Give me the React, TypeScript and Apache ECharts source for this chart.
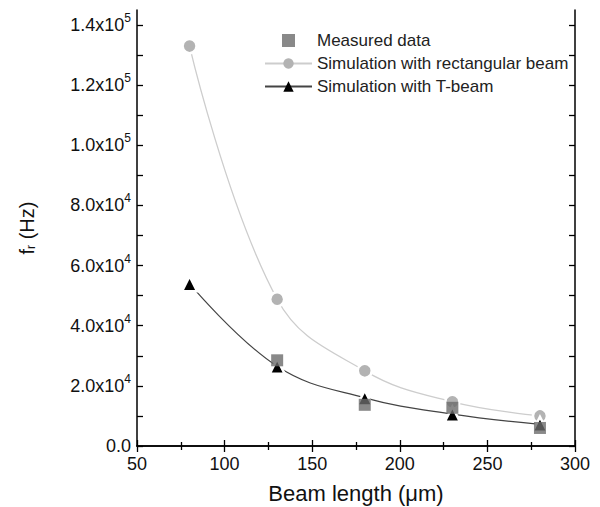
import React, { useEffect, useRef } from 'react';
import * as echarts from 'echarts';

const beamLengths = [80, 130, 180, 230, 280];
const measured: (number | null)[] = [null, 28500, 13700, 12700, 6000];
const rectBeam = [133000, 48800, 25000, 14700, 10000];
const tBeam = [54000, 26500, 16000, 10600, 7200];
const yLabelValues = [0, 20000, 40000, 60000, 80000, 100000, 120000, 140000];
const yTickValues = [0, 10000, 20000, 30000, 40000, 50000, 60000, 70000, 80000, 90000, 100000, 110000, 120000, 130000, 140000];

const FONT = 'Liberation Sans, Arial, sans-serif';

function fmtY(v: number): string {
  if (v === 0) return '{m|0.0}';
  const e = Math.floor(Math.log10(v) + 1e-9);
  const mant = (v / Math.pow(10, e)).toFixed(1);
  return `{m|${mant}x10}{s|${e}}`;
}

export default function App() {
  const ref = useRef<HTMLDivElement>(null);
  useEffect(() => {
    if (!ref.current) return;
    const chart = echarts.init(ref.current, undefined, { renderer: 'svg' });
    const axisLine = { show: true, lineStyle: { color: '#000', width: 1.5 } };
    const tickStyle = { color: '#000', width: 1.3 };
    const xCommon = {
      type: 'value' as const,
      min: 50,
      max: 300,
      interval: 50,
      axisLine,
      splitLine: { show: false },
      axisTick: { show: true, inside: true, length: 6, lineStyle: tickStyle },
      minorTick: { show: true, splitNumber: 2, length: 4, lineStyle: tickStyle },
    };
    const yCommon = {
      type: 'value' as const,
      min: 0,
      max: 145000,
      axisLine,
      splitLine: { show: false },
      axisTick: { show: true, inside: true, length: 6, lineStyle: tickStyle, customValues: yTickValues },
    };
    chart.setOption({
      animation: false,
      textStyle: { fontFamily: FONT },
      grid: { left: 137, right: 25, top: 10, bottom: 61, containLabel: false, outerBoundsMode: 'none' },
      legend: {
        orient: 'vertical',
        left: 259,
        top: 27,
        itemWidth: 47,
        itemHeight: 13,
        itemGap: 6,
        itemStyle: { borderWidth: 0 },
        textStyle: { fontSize: 17, color: '#222', fontFamily: FONT },
        data: [
          { name: 'Measured data', icon: 'path://M0,0L10,0L10,10L0,10Z' },
          'Simulation with rectangular beam',
          'Simulation with T-beam',
        ],
      },
      xAxis: [
        {
          ...xCommon,
          position: 'bottom',
          name: 'Beam length (\u03bcm)',
          nameLocation: 'middle',
          nameGap: 36,
          nameTextStyle: { fontSize: 22, color: '#111', fontFamily: FONT },
          axisLabel: { fontSize: 18, color: '#111', margin: 9, fontFamily: FONT },
        },
        {
          ...xCommon,
          position: 'top',
          axisLabel: { show: false },
        },
      ],
      yAxis: [
        {
          ...yCommon,
          position: 'left',
          name: '{a|f}{sub|r}{a| (Hz)}',
          nameLocation: 'middle',
          nameGap: 100,
          nameTextStyle: {
            fontFamily: FONT,
            rich: {
              a: { fontSize: 20, color: '#111', fontFamily: FONT },
              sub: { fontSize: 12, color: '#111', verticalAlign: 'bottom', fontFamily: FONT },
            },
          },
          axisLabel: {
            show: true,
            customValues: yLabelValues,
            margin: 6,
            formatter: (v: number) => fmtY(v),
            rich: {
              m: { fontSize: 18, color: '#111', lineHeight: 26, fontFamily: FONT },
              s: { fontSize: 12, color: '#111', lineHeight: 12, verticalAlign: 'top', fontFamily: FONT },
            },
          },
        },
        {
          ...yCommon,
          position: 'right',
          axisLabel: { show: false },
        },
      ],
      series: [
        {
          name: 'Measured data',
          type: 'scatter',
          symbol: 'rect',
          symbolSize: 12,
          itemStyle: { color: '#6c6c6c' },
          z: 5,
          data: beamLengths
            .map((x, i) => [x, measured[i]])
            .filter((d) => d[1] !== null),
        },
        {
          name: 'Simulation with rectangular beam',
          type: 'line',
          smooth: 0.4,
          symbol: 'circle',
          symbolSize: 14,
          itemStyle: { color: '#b3b3b3', borderColor: '#fff', borderWidth: 2.5 },
          lineStyle: { color: '#cdcdcd', width: 1.3 },
          z: 3,
          data: beamLengths.map((x, i) => [x, rectBeam[i]]),
        },
        {
          name: 'Simulation with T-beam',
          type: 'line',
          smooth: 0.4,
          symbol: 'triangle',
          symbolSize: 15,
          itemStyle: { color: '#000', borderColor: '#fff', borderWidth: 2.5 },
          lineStyle: { color: '#444', width: 1.2 },
          z: 4,
          data: beamLengths.map((x, i) => [x, tBeam[i]]),
        },
      ],
    });
    return () => chart.dispose();
  }, []);
  return <div ref={ref} style={{ width: 600, height: 507, position: 'absolute', left: 0, top: 0 }} />;
}
